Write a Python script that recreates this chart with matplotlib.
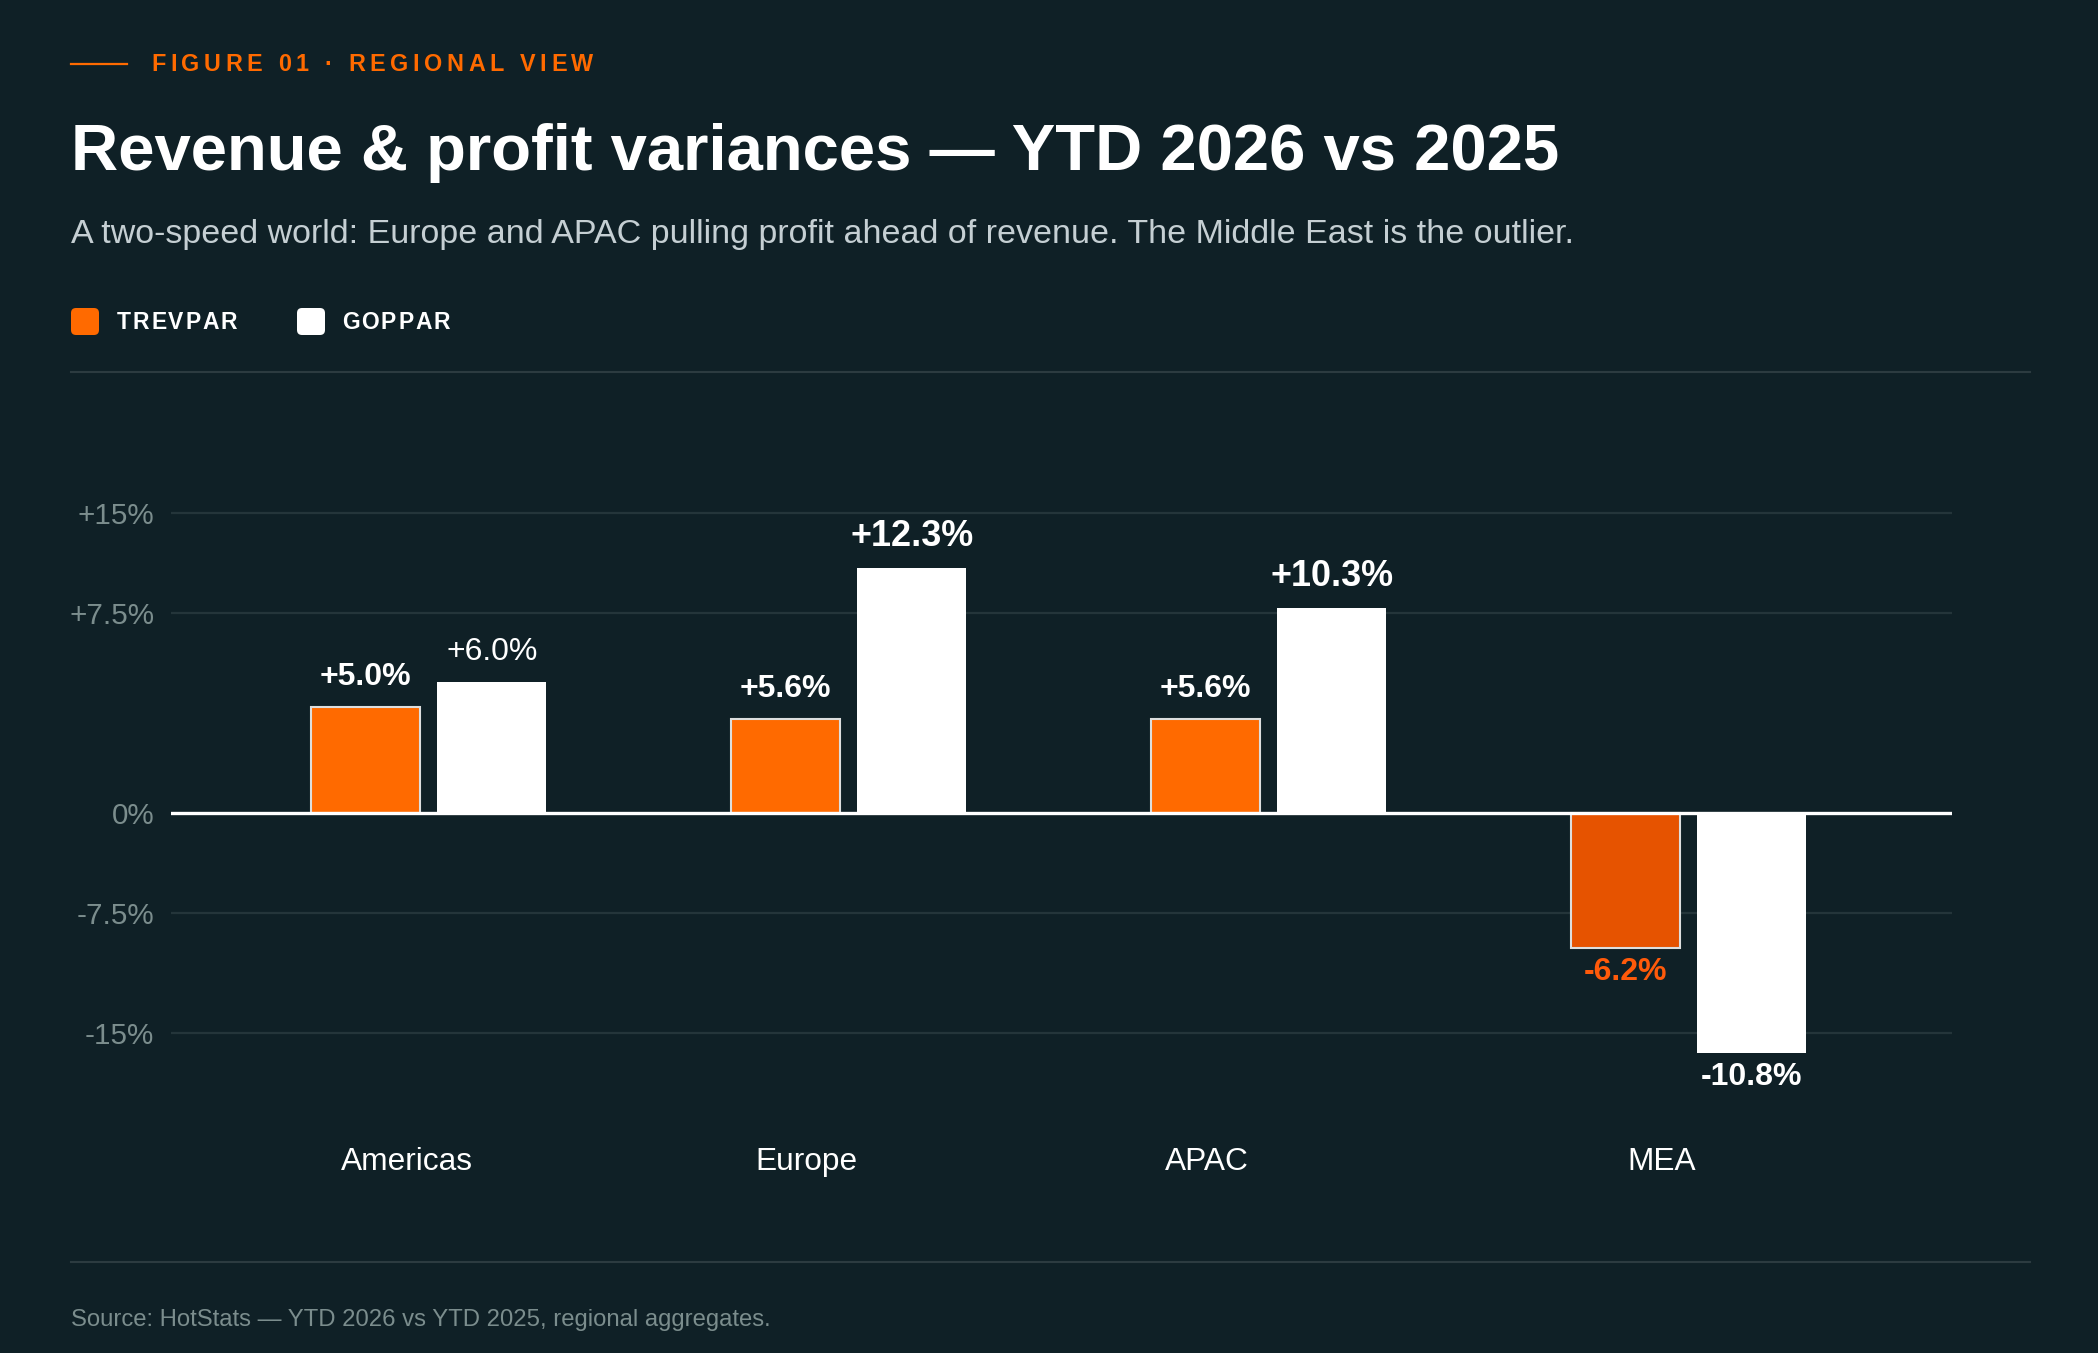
import matplotlib

matplotlib.use("Agg")
import matplotlib.pyplot as plt
import numpy as np
from matplotlib.lines import Line2D
from matplotlib.patches import FancyBboxPatch
from matplotlib.transforms import blended_transform_factory

# data (bar heights in axis units, labels as printed)
regions = ["Americas", "Europe", "APAC", "MEA"]
trevpar = [5.3, 4.7, 4.7, -6.75]
goppar = [6.55, 12.25, 10.25, -12.0]
trevpar_labels = ["+5.0%", "+5.6%", "+5.6%", "-6.2%"]
goppar_labels = ["+6.0%", "+12.3%", "+10.3%", "-10.8%"]
y_ticks = [15, 10, 0, -5, -11]
y_tick_labels = ["+15%", "+7.5%", "0%", "-7.5%", "-15%"]

# styling
BG = "#0f2026"
ORANGE = "#ff6a00"
ORANGE_DARK = "#e65300"
GRID = "#24353a"
RULE = "#2c3b40"
MUTED = "#7b8d8d"
FONT = "Liberation Sans"
region_label_shift = [-0.052, -0.10, -0.148, -0.064]
goppar_label_weight = ["normal", "bold", "bold", "bold"]
goppar_label_size = [23.0, 25.9, 25.9, 23.0]

W, H = 2098, 1353
plt.rcParams["font.family"] = [FONT, "DejaVu Sans"]

fig = plt.figure(figsize=(W / 100, H / 100), dpi=100, facecolor=BG)
renderer = fig.canvas.get_renderer()


def fx(px):
    return px / W


def fy(py):
    return 1 - py / H


def char_width(ch, **kw):
    a = fig.text(0, 0, "|" + ch + "|", **kw)
    b = fig.text(0, 0, "||", **kw)
    w = a.get_window_extent(renderer).width - b.get_window_extent(renderer).width
    a.remove()
    b.remove()
    return w


def spaced_text(x_px, y_px, s, spacing, **kw):
    x = x_px
    for ch in s:
        if ch != " ":
            fig.text(fx(x), fy(y_px), ch, ha="left", va="baseline", **kw)
        x += char_width(ch, **kw) + spacing


# header
fig.add_artist(Line2D([fx(71), fx(127)], [fy(64), fy(64)], color=ORANGE, lw=1.6))
spaced_text(151, 71, "FIGURE 01 · REGIONAL VIEW", 4.6,
            fontsize=16.8, fontweight="bold", color=ORANGE)
fig.text(fx(71), fy(170), "Revenue & profit variances \u2014 YTD 2026 vs 2025",
         fontsize=47.0, fontweight="bold", color="white", va="baseline")
fig.text(fx(71), fy(243),
         "A two-speed world: Europe and APAC pulling profit ahead of revenue. "
         "The Middle East is the outlier.",
         fontsize=24.5, color="#c5cfd3", va="baseline")

# legend
for x0, tx, col, name in [(71, 117, ORANGE, "TREVPAR"), (297, 342, "white", "GOPPAR")]:
    fig.add_artist(FancyBboxPatch((x0 / 100 + 0.05, (H - 335) / 100 + 0.05), 0.18, 0.17,
                                  boxstyle="round,pad=0.05", facecolor=col, edgecolor="none",
                                  transform=fig.dpi_scale_trans))
    spaced_text(tx, 329, name, 1.8, fontsize=16.5, fontweight="bold", color="white")

fig.add_artist(Line2D([fx(71), fx(2030)], [fy(372), fy(372)], color=RULE, lw=1.5))
fig.add_artist(Line2D([fx(71), fx(2030)], [fy(1262), fy(1262)], color=RULE, lw=1.5))
fig.text(fx(71), fy(1326), "Source: HotStats \u2014 YTD 2026 vs YTD 2025, regional aggregates.",
         fontsize=17.2, color=MUTED, va="baseline")

# chart
ax = fig.add_axes([fx(171), fy(1110), (1952 - 171) / W, (1110 - 440) / H])
ax.set_facecolor(BG)
x = np.arange(len(regions))
offset, width = 0.15, 0.26

t_colors = [ORANGE if v >= 0 else ORANGE_DARK for v in trevpar]
ax.bar(x - offset, trevpar, width, color=t_colors, edgecolor="#dcdede", linewidth=1.5, zorder=2)
ax.bar(x + offset, goppar, width, color="white", linewidth=0, zorder=2)

for t in y_ticks:
    if t != 0:
        ax.axhline(t, color=GRID, lw=1.6, zorder=0)
ax.axhline(0, color="white", lw=2.4, zorder=3)

for i in range(len(regions)):
    for xi, v, lab, wt, sz, col in [
        (x[i] - offset, trevpar[i], trevpar_labels[i], "bold", 23.0,
         "white" if trevpar[i] >= 0 else "#ff5a0a"),
        (x[i] + offset, goppar[i], goppar_labels[i], goppar_label_weight[i],
         goppar_label_size[i], "white"),
    ]:
        dy = 16 if v >= 0 else -23
        ax.annotate(lab, (xi, v), xytext=(0, dy), textcoords="offset points",
                    ha="center", va="baseline", fontsize=sz, fontweight=wt, color=col,
                    zorder=4)

trans = blended_transform_factory(ax.transData, ax.transAxes)
for i, name in enumerate(regions):
    ax.text(x[i] + region_label_shift[i], -0.0896, name, transform=trans,
            ha="center", va="baseline", fontsize=22.8, color="white")

ax.set_xlim(-0.614, 3.627)
ax.set_ylim(-14.85, 18.65)
ax.set_xticks([])
ax.set_yticks(y_ticks)
ax.set_yticklabels(y_tick_labels)
ax.tick_params(axis="y", length=0, pad=12, labelsize=21.3, labelcolor=MUTED)
for s in ax.spines.values():
    s.set_visible(False)

fig.savefig("out.png", dpi=100, facecolor=BG)
